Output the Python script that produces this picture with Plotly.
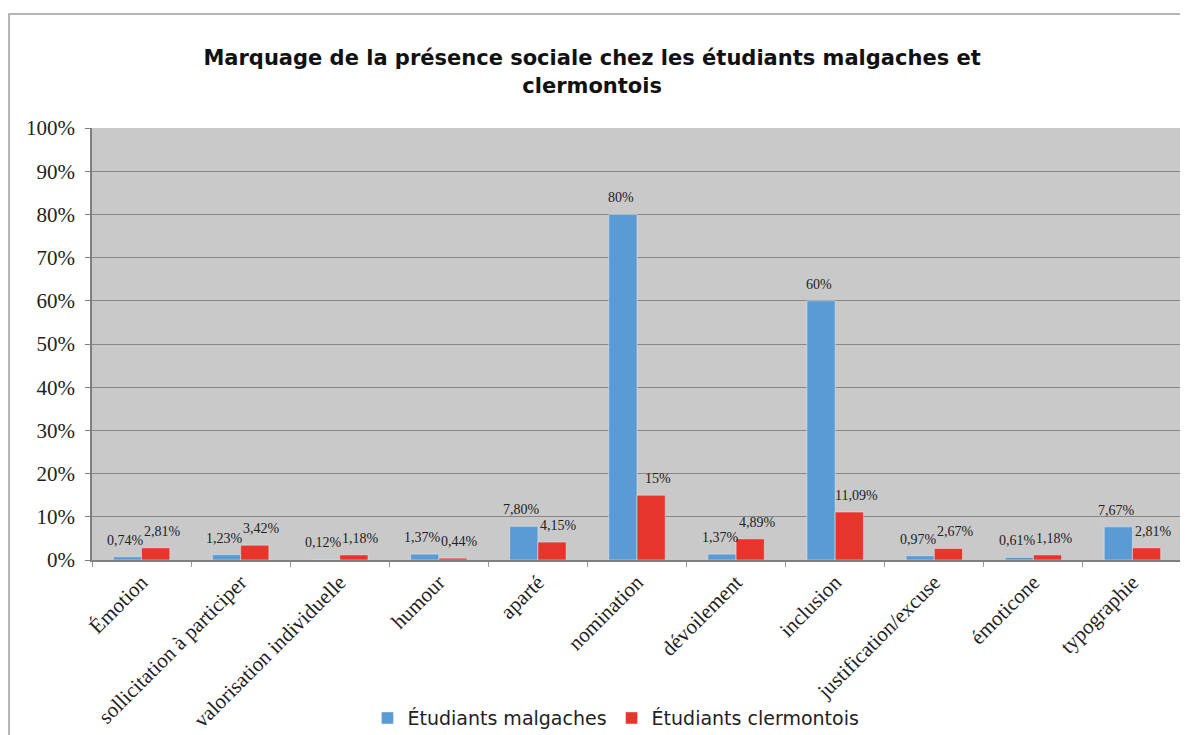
import plotly.graph_objects as go

categories = ["Émotion", "sollicitation à participer", "valorisation individuelle", "humour",
              "aparté", "nomination", "dévoilement", "inclusion", "justification/excuse",
              "émoticone", "typographie"]
malgaches = [0.74, 1.23, 0.12, 1.37, 7.80, 80, 1.37, 60, 0.97, 0.61, 7.67]
clermontois = [2.81, 3.42, 1.18, 0.44, 4.15, 15, 4.89, 11.09, 2.67, 1.18, 2.81]
malgaches_labels = ["0,74%", "1,23%", "0,12%", "1,37%", "7,80%", "80%", "1,37%", "60%", "0,97%", "0,61%", "7,67%"]
clermontois_labels = ["2,81%", "3,42%", "1,18%", "0,44%", "4,15%", "15%", "4,89%", "11,09%", "2,67%", "1,18%", "2,81%"]
y_ticks = list(range(0, 101, 10))

serif = "Liberation Serif, Times New Roman, serif"
sans = "DejaVu Sans, Verdana, sans-serif"

fig = go.Figure()
fig.add_trace(go.Bar(
    x=categories, y=malgaches, name="Étudiants malgaches",
    marker=dict(color="#5b9bd5"),
))
fig.add_trace(go.Bar(
    x=categories, y=clermontois, name="Étudiants clermontois",
    marker=dict(color="#e8352b"),
))

# data labels, anchored to each bar's value on the axes
for vals, labels, dx in ((malgaches, malgaches_labels, -16), (clermontois, clermontois_labels, 21)):
    for cat, v, lab in zip(categories, vals, labels):
        fig.add_annotation(
            x=cat, y=v, xref="x", yref="y", text=lab, showarrow=False,
            xanchor="center", yanchor="bottom", xshift=dx, yshift=7,
            font=dict(family=serif, size=14, color="#222222"),
        )

fig.update_layout(
    width=1180, height=727,
    margin=dict(l=84, r=6, t=120, b=175, autoexpand=False),
    paper_bgcolor="white",
    plot_bgcolor="#c9c9c9",
    barmode="group",
    bargap=0.43, bargroupgap=0.0,
    title=dict(
        text="<b>Marquage de la présence sociale chez les étudiants malgaches et<br>clermontois</b>",
        x=0.495, xanchor="center", y=0.921, yanchor="top",
        font=dict(family=sans, size=21, color="#111111"),
    ),
    legend=dict(
        orientation="h", x=0.4807, xanchor="center", y=-0.366, yanchor="middle",
        font=dict(family=sans, size=19, color="#222222"),
        bgcolor="rgba(0,0,0,0)", traceorder="normal",
    ),
    showlegend=True,
)
fig.update_xaxes(
    tickangle=-45, automargin=False,
    tickfont=dict(family=serif, size=21, color="#222222"),
    showline=True, linecolor="#7f7f7f", linewidth=1.5,
    ticks="outside", tickson="boundaries", ticklen=5, tickcolor="#9a9a9a",
    showgrid=False, mirror=False,
)
fig.update_yaxes(
    range=[0, 100], tickvals=y_ticks, ticktext=[f"{v}%" for v in y_ticks],
    automargin=False,
    tickfont=dict(family=serif, size=21, color="#222222"),
    showgrid=True, gridcolor="#878787", gridwidth=1.2,
    showline=True, linecolor="#7f7f7f", linewidth=1.5, mirror=True,
    ticks="outside", ticklen=5, tickcolor="#7f7f7f", ticklabelstandoff=6,
    zeroline=False,
)
fig.add_shape(type="rect", xref="paper", yref="paper",
              x0=-0.0761, x1=1.012, y0=-0.45, y1=1.264,
              line=dict(color="#b5b5b5", width=2), fillcolor="rgba(0,0,0,0)", layer="below")

fig.write_html("out.html")
